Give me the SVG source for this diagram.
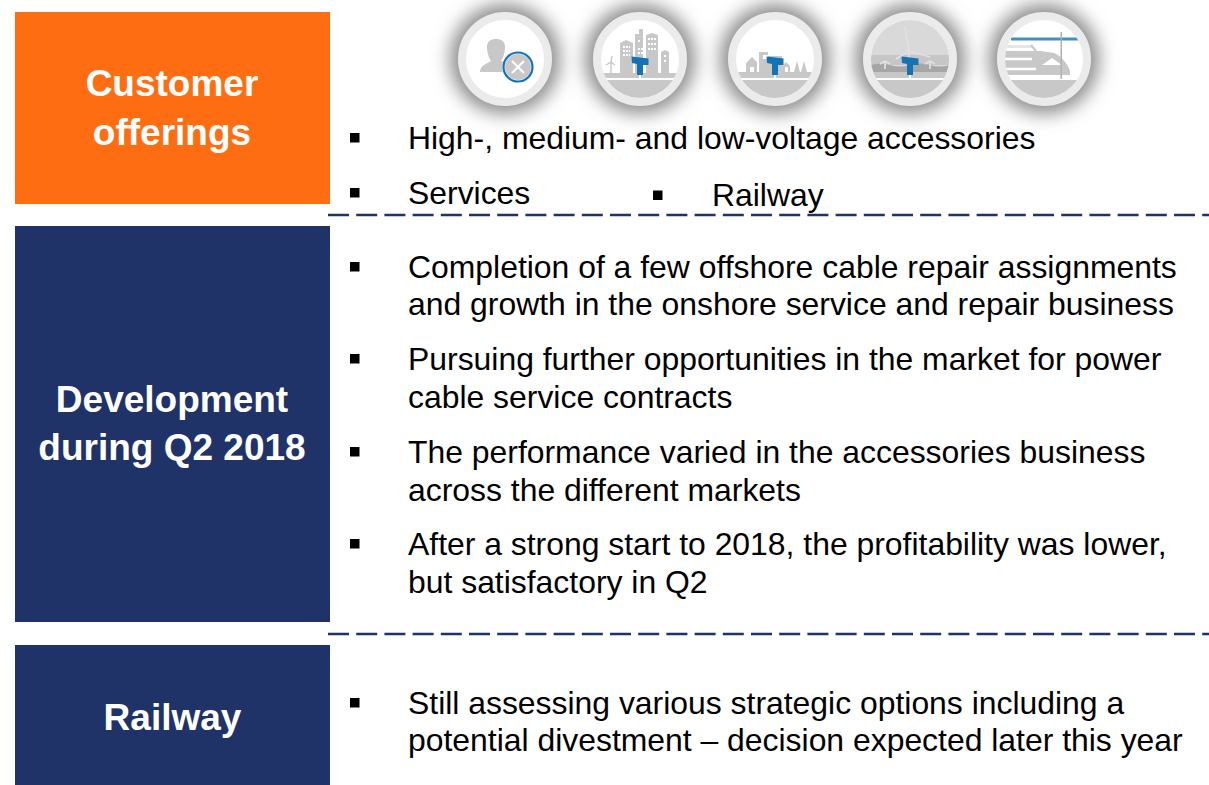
<svg xmlns="http://www.w3.org/2000/svg" width="1209" height="785" viewBox="0 0 1209 785">
<style>
text{font-family:"Liberation Sans",Arial,sans-serif}
.h{font-size:37px;font-weight:bold;fill:#fff;text-anchor:middle}
.b{font-size:31.9px;fill:#000}
.bu{fill:#000}
.dash{stroke:#1f3368;stroke-width:2.4;stroke-dasharray:21 7.2;fill:none}
.sh{fill:#8c8c8c;filter:url(#blur)}
.ring{fill:#fff;stroke:#ebebeb;stroke-width:8}
.g{fill:#c9c8c8}
.bl{fill:#1273b6}
</style>
<defs>
<filter id="blur" x="-50%" y="-50%" width="200%" height="200%"><feGaussianBlur stdDeviation="9"/></filter>
<clipPath id="c"><circle cx="0" cy="0" r="39"/></clipPath>
<g id="tee"><path class="bl" d="M-8.500 -2.500 L8.500 -0.500 V6 H3 V16 H-3 V5 L-8 4Z"/><rect x="-1" y="16" width="2" height="4" fill="#fff"/></g>
<g id="base"><circle r="55" class="sh"/><circle r="43" class="ring"/></g>
<g id="ground"><path class="g" d="M-39 21 H39 V39 H-39Z"/><rect x="-39" y="19" width="78" height="2" fill="#fff"/></g>
</defs>
<rect width="1209" height="785" fill="#fff"/>
<g id="customer-offerings"><rect x="15" y="12" width="315" height="192" fill="#ff6d12"/>
<text class="h" x="172" y="96">Customer</text><text class="h" x="172" y="144.500">offerings</text></g>
<g id="development"><rect x="15" y="226" width="315" height="396" fill="#1f3368"/>
<text class="h" x="172" y="412">Development</text><text class="h" x="172" y="459.500">during Q2 2018</text></g>
<g id="railway"><rect x="15" y="645" width="315" height="140" fill="#1f3368"/>
<text class="h" x="172.500" y="730">Railway</text></g>
<g id="connectors"><path class="dash" d="M328 215H1209"/><path class="dash" d="M328 634H1209"/></g>
<g id="icon-services" transform="translate(505 59)"><use href="#base"/>
<path class="g" d="M-25 13 C-25 6 -18 5 -14 2 C-17 -3 -18 -7 -18 -12 C-18 -18 -14 -20 -9 -20 C-4 -20 0 -18 0 -12 C0 -7 -1 -3 -4 2 L3 5 L3 13Z"/>
<circle cx="13" cy="8" r="14.500" class="g" stroke="#fff" stroke-width="3"/>
<circle cx="13" cy="8" r="14.500" fill="none" stroke="#1273b6" stroke-width="2.200"/>
<path d="M7 2 L19 14 M19 2 L7 14" stroke="#fff" stroke-width="2.200"/></g>
<g id="icon-city" transform="translate(640 59)"><use href="#base"/>
<g clip-path="url(#c)"><use href="#ground"/>
<path class="g" d="M-20 14 V-16 L-14 -19 L-7 -16 V14Z M-5 14 V-25 L-1 -25 V-30 H3 V14Z M6 14 V-24 L12 -26 L18 -24 V14Z M21 14 V-7 L25 -9 L29 -7 V14Z"/>
<rect x="-39" y="14" width="78" height="5" class="g"/>
<path d="M-29 14 V3 M-29 3 L-25 6 M-29 3 L-28 -3 M-29 3 L-34 6" stroke="#c9c8c8" stroke-width="1.400" fill="none"/>
<path d="M-17 -12h7M-17 -8h7M-17 -4h7M-2 -18h3M-2 -10h5M-2 -6h5M8 -20h8M8 -15h8M8 -10h8M24 -3h2M24 2h2" stroke="#fff" stroke-width="2" stroke-dasharray="2 1"/></g>
<use href="#tee"/></g>
<g id="icon-town" transform="translate(775 59)"><use href="#base"/>
<g clip-path="url(#c)"><use href="#ground"/>
<rect x="-39" y="13" width="78" height="6" class="g"/>
<path class="g" d="M-29 13 V4 L-23 -2 L-18 3 V13Z M-16 13 V-7 H-7 V-3 H7 V13Z M7 13 V7 L11 3 L15 7 V13Z M19 13 L22 2 L25 13Z M26 13 L29 2 L32 13Z"/>
<rect x="-25" y="8" width="4" height="5" fill="#fff"/><rect x="-12" y="-4" width="5" height="4" fill="#fff"/><rect x="10" y="8" width="3" height="5" fill="#fff"/></g>
<use href="#tee"/></g>
<g id="icon-offshore" transform="translate(910 59)"><use href="#base"/>
<g clip-path="url(#c)"><rect x="-39" y="-39" width="78" height="78" fill="#d9d9d9"/>
<rect x="-39" y="-4" width="78" height="10" fill="#c6c6c6"/>
<path d="M-39 6 Q-30 3 -20 6 T0 6 T20 6 T40 6 V13 H-39Z" fill="#a6a6a6"/>
<rect x="-39" y="13" width="78" height="6" fill="#c9c8c8"/>
<path d="M-1 -8 L-5 -33 M-1 -8 L-14 0 M-1 -8 L20 -2 M-1 -8 V8 M-25 2 V10 M20 2 V10 M-25 2 L-30 5 M-25 2 L-20 5 M20 2 L15 5 M20 2 L25 5" stroke="#e0e0e0" stroke-width="1.800" fill="none"/>
<use href="#ground"/></g>
<use href="#tee"/></g>
<g id="icon-train" transform="translate(1044 59)"><use href="#base"/>
<g clip-path="url(#c)">
<path fill="#e6e6e6" d="M-39 -14 H-12 V-11 H-39Z"/>
<path class="g" d="M-39 -8 H-3 L10 -6 C18 -3 24 6 26 12 L26 16 H-39Z"/>
<path d="M-39 0 H-12 M-39 10 H-8" stroke="#fff" stroke-width="2.500"/>
<path d="M-2 6 L8 -1 L18 6Z" fill="#fff"/>
<use href="#ground"/>
<rect x="-39" y="16" width="78" height="5" fill="#fff"/>
<path d="M-13 -14 L-8 -8" stroke="#c9c8c8" stroke-width="2"/>
<rect x="-33" y="-21.500" width="67" height="3" fill="#3f8fca"/>
<rect x="16.500" y="-27" width="1.500" height="47" fill="#b0b0b0"/></g></g>
<g id="bullets" class="bu">
<rect x="350" y="133" width="9.500" height="9.500"/><rect x="350" y="188" width="9.500" height="9.500"/><rect x="653" y="190.500" width="9.500" height="9.500"/>
<rect x="350" y="262" width="9.500" height="9.500"/><rect x="350" y="354" width="9.500" height="9.500"/><rect x="350" y="447" width="9.500" height="9.500"/><rect x="350" y="539" width="9.500" height="9.500"/><rect x="350" y="698" width="9.500" height="9.500"/>
</g>
<g id="body-text">
<text class="b" x="408" y="149">High-, medium- and low-voltage accessories</text>
<text class="b" x="408" y="204">Services</text>
<text class="b" x="712" y="206">Railway</text>
<text class="b" x="408" y="278">Completion of a few offshore cable repair assignments</text>
<text class="b" x="408" y="315">and growth in the onshore service and repair business</text>
<text class="b" x="408" y="370">Pursuing further opportunities in the market for power</text>
<text class="b" x="408" y="408">cable service contracts</text>
<text class="b" x="408" y="463">The performance varied in the accessories business</text>
<text class="b" x="408" y="501">across the different markets</text>
<text class="b" x="408" y="555">After a strong start to 2018, the profitability was lower,</text>
<text class="b" x="408" y="593">but satisfactory in Q2</text>
<text class="b" x="408" y="714">Still assessing various strategic options including a</text>
<text class="b" x="408" y="751">potential divestment – decision expected later this year</text>
</g>
</svg>
